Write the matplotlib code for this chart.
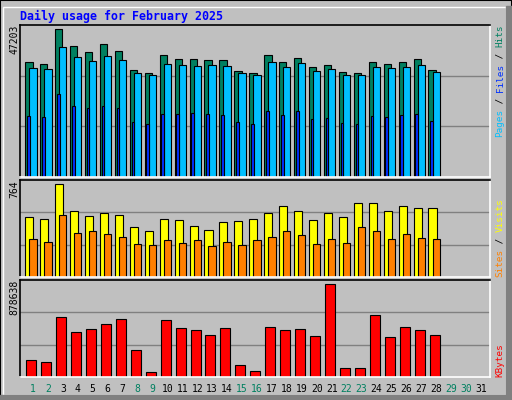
import matplotlib
matplotlib.use("Agg")
import matplotlib.pyplot as plt
from matplotlib.patches import Rectangle
import numpy as np

days = list(range(1, 32))
weekend = [1, 2, 8, 9, 15, 16, 22, 23, 29, 30]
hits = [36819,36177,47203,41955,40029,42597,40221,34251,33288,39066,37782,37782,37461,37461,
        33930,33288,39066,36819,38103,35214,35856,33609,33288,36819,36177,36819,37782,34251]
files = [34893,34572,41634,38424,37140,38745,37461,33288,32646,36177,35856,35535,35856,35535,
         33288,32646,36819,35214,36498,33930,34572,32646,32646,35214,34893,35214,35856,33609]
pages = [19581,19260,26547,22695,22053,22695,22053,17559,16917,20127,20127,20448,20127,19806,
         17559,16917,21090,19806,21090,18522,18843,17238,16917,19485,19164,19806,20127,17880]
visits = [490,473,764,540,498,523,506,407,382,473,465,415,390,448,457,473,523,581,540,465,
          523,490,606,606,540,581,564,564]
sites = [315,291,506,365,382,357,332,274,266,307,282,307,257,291,266,307,332,374,349,274,
         315,282,407,374,315,357,324,315]
kbytes = [157000,138000,571000,426000,455000,503000,551000,253000,51000,542000,465000,446000,
          397000,465000,109000,61000,474000,446000,455000,388000,878638,89000,89000,590000,
          378000,474000,446000,397000]

BG = "#c0c0c0"
fig = plt.figure(figsize=(5.12, 4.0), dpi=100, facecolor=BG)
mono = "DejaVu Sans Mono"

fig.patches.append(Rectangle((0, 0), 1, 1, transform=fig.transFigure, fill=False,
                             edgecolor="black", lw=1.5))
fig.patches.append(Rectangle((0.006, 0.012), 0.982, 0.97, transform=fig.transFigure,
                             fill=False, edgecolor="white", lw=1))
fig.patches.append(Rectangle((0.988, 0.0), 0.012, 0.985, transform=fig.transFigure,
                             color="#808080"))
fig.patches.append(Rectangle((0.0, 0.0), 1.0, 0.012, transform=fig.transFigure,
                             color="#808080"))

fig.text(20/512, 1-16/400, "Daily usage for February 2025", color="#0000ff",
         fontsize=8.4, fontweight="bold", family=mono, va="center", ha="left")

CH = 5.6  # px per char for right labels
def rlabel(parts, bottom_px):
    y = bottom_px
    for s, c in parts:
        fig.text(500/512, 1 - y/400, s, rotation=90, ha="center", va="bottom",
                 fontsize=6.7, family=mono, color=c)
        y -= CH * len(s)

def mk(bottom, height):
    ax = fig.add_axes([20/512, bottom, 470/512, height], facecolor=BG)
    ax.set_xlim(0.13, 31.6)
    ax.set_xticks([]); ax.set_yticks([])
    for s in ["left", "top"]:
        ax.spines[s].set_color("black")
    for s in ["right", "bottom"]:
        ax.spines[s].set_color("white")
    for sp in ax.spines.values():
        sp.set_linewidth(1.2)
    return ax

def ylabel(ax, s):
    ax.text(-0.011, 1.0, s, transform=ax.transAxes, rotation=90, ha="center",
            va="top", fontsize=7, family=mono)

x = np.arange(1, len(hits) + 1)
kw = dict(align="edge", edgecolor="black", linewidth=0.8)

ax1 = mk(1-177/400, 152/400)
ym = 48500
ax1.set_ylim(0, ym)
for f in (1/3, 2/3):
    ax1.axhline(ym*f, color="#808080", lw=1, zorder=0)
ax1.bar(x-0.52, hits, 0.49, color="#008060", **kw)
ax1.bar(x-0.25, files, 0.49, color="#00bfff", **kw)
ax1.bar(x-0.40, pages, 0.18, color="#0030ff", **kw)
ylabel(ax1, "47203")
rlabel([("Pages", "#00bfff"), (" / ", "black"), ("Files", "#0030ff"),
        (" / ", "black"), ("Hits", "#008060")], 137)

ax2 = mk(1-277/400, 97/400)
ym2 = 797
ax2.set_ylim(0, ym2)
for f in (1/3, 2/3):
    ax2.axhline(ym2*f, color="#808080", lw=1, zorder=0)
ax2.bar(x-0.52, visits, 0.54, color="#ffff00", **kw)
ax2.bar(x-0.25, sites, 0.49, color="#ff8000", **kw)
ylabel(ax2, "764")
rlabel([("Sites", "#ff8000"), (" / ", "black"), ("Visits", "#ffff00")], 277)

ax3 = mk(1-377/400, 97/400)
ym3 = 918000
ax3.set_ylim(0, ym3)
for f in (1/3, 2/3):
    ax3.axhline(ym3*f, color="#808080", lw=1, zorder=0)
ax3.bar(x-0.45, kbytes, 0.67, color="#ff0000", **kw)
ylabel(ax3, "878638")
rlabel([("KBytes", "#ff0000")], 377)

for d in days:
    ax3.text(d, -0.12, str(d), transform=ax3.get_xaxis_transform(), ha="center",
             va="center", fontsize=7, family=mono,
             color="#008060" if d in weekend else "black")

fig.savefig("out.png", dpi=100, facecolor=BG)
